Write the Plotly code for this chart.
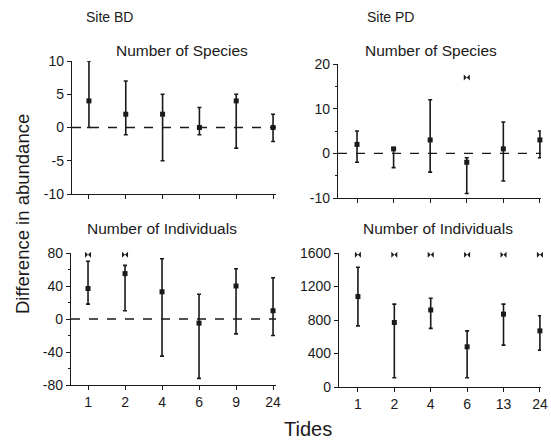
import plotly.graph_objects as go

W, H = 551, 447

# ---------------- data ----------------
bd_tides = ["1", "2", "4", "6", "9", "24"]
pd_tides = ["1", "2", "4", "6", "13", "24"]

bd_species_mean = [4, 2, 2, 0, 4, 0]
bd_species_upper = [10, 7, 5, 3, 5, 2]
bd_species_lower = [0, -1.1, -5, -1.1, -3.1, -2.1]
bd_species_sig = [11.2, None, None, None, None, None]

pd_species_mean = [2, 1, 3, -2, 1, 3]
pd_species_upper = [5, 1.2, 12, -1, 7, 5]
pd_species_lower = [-2, -3.2, -4.2, -9, -6.2, -1]
pd_species_sig = [None, None, None, 17, None, None]

bd_ind_mean = [37, 55, 33, -5, 40, 10]
bd_ind_upper = [70, 65, 73, 30, 61, 50]
bd_ind_lower = [18, 10, -45, -72, -18, -20]
bd_ind_sig = [78, 78, None, None, None, None]

pd_ind_mean = [1080, 770, 920, 480, 870, 670]
pd_ind_upper = [1430, 990, 1060, 670, 990, 850]
pd_ind_lower = [730, 110, 700, 110, 500, 440]
pd_ind_sig = [1580, 1580, 1580, 1580, 1580, 1580]

FONT = "Liberation Sans, Arial, Helvetica, sans-serif"
INK = "#1a1a1a"

panels = [
    dict(x=bd_tides, m=bd_species_mean, u=bd_species_upper, l=bd_species_lower, s=bd_species_sig,
         xa="x", ya="y", xpx=(72, 276), ypx=(61, 194), yr=[-10, 10], xr=[-0.46, 5.08],
         tv=[10, 5, 0, -5, -10], tt=["10", "5", "0", "-5", "-10"], minor=None, zero=True, xl=False),
    dict(x=pd_tides, m=pd_species_mean, u=pd_species_upper, l=pd_species_lower, s=pd_species_sig,
         xa="x2", ya="y2", xpx=(338, 541), ypx=(64, 198), yr=[-10, 20], xr=[-0.52, 5.03],
         tv=[20, 10, 0, -10], tt=["20", "10", "0", "-10"], minor=5, zero=True, xl=False),
    dict(x=bd_tides, m=bd_ind_mean, u=bd_ind_upper, l=bd_ind_lower, s=bd_ind_sig,
         xa="x3", ya="y3", xpx=(71, 276), ypx=(253, 385), yr=[-80, 80], xr=[-0.46, 5.08],
         tv=[80, 40, 0, -40, -80], tt=["80", "40", "0", "-40", "-80"], minor=20, zero=True, xl=True),
    dict(x=pd_tides, m=pd_ind_mean, u=pd_ind_upper, l=pd_ind_lower, s=pd_ind_sig,
         xa="x4", ya="y4", xpx=(339, 541), ypx=(253, 387), yr=[0, 1600], xr=[-0.52, 5.03],
         tv=[1600, 1200, 800, 400, 0], tt=["1600", "1200", "800", "400", "0"], minor=None, zero=False, xl=True),
]

fig = go.Figure()
layout = dict(
    width=W, height=H, margin=dict(l=0, r=0, t=0, b=0, pad=0, autoexpand=False),
    paper_bgcolor="white", plot_bgcolor="white", showlegend=False,
    font=dict(family=FONT, color=INK, size=13),
)
shapes = []

for i, p in enumerate(panels):
    plus = [u - m for u, m in zip(p["u"], p["m"])]
    minus = [m - l for m, l in zip(p["m"], p["l"])]
    fig.add_trace(go.Scatter(
        x=p["x"], y=p["m"], mode="markers", xaxis=p["xa"], yaxis=p["ya"],
        marker=dict(symbol="square", size=5, color=INK),
        error_y=dict(type="data", symmetric=False, array=plus, arrayminus=minus,
                     color=INK, thickness=1.6, width=2),
        cliponaxis=False,
    ))
    fig.add_trace(go.Scatter(
        x=p["x"], y=p["s"], mode="markers", xaxis=p["xa"], yaxis=p["ya"],
        marker=dict(symbol="bowtie", size=6, color=INK),
        cliponaxis=False,
    ))
    sfx = "" if i == 0 else str(i + 1)
    xdom = [p["xpx"][0] / W, p["xpx"][1] / W]
    ydom = [1 - p["ypx"][1] / H, 1 - p["ypx"][0] / H]
    layout["xaxis" + sfx] = dict(
        domain=xdom, anchor=p["ya"], type="category", range=p["xr"],
        categoryorder="array", categoryarray=p["x"], automargin=False,
        showline=True, linecolor=INK, linewidth=1.3, ticks="outside", ticklen=4,
        tickcolor=INK, showgrid=False, zeroline=False, showticklabels=p["xl"],
        tickfont=dict(size=14, family=FONT, color=INK), fixedrange=True,
    )
    ya = dict(
        domain=ydom, anchor=p["xa"], range=p["yr"], automargin=False,
        tickmode="array", tickvals=p["tv"], ticktext=p["tt"],
        showline=True, linecolor=INK, linewidth=1.3, ticks="outside", ticklen=4,
        tickcolor=INK, showgrid=False, zeroline=False,
        tickfont=dict(size=14, family=FONT, color=INK), fixedrange=True,
    )
    if p["minor"]:
        ya["minor"] = dict(dtick=p["minor"], ticklen=2, tickcolor=INK, ticks="outside", showgrid=False)
    layout["yaxis" + sfx] = ya
    if p["zero"]:
        shapes.append(dict(type="line", xref=p["xa"] + " domain", yref=p["ya"],
                           x0=0, x1=1, y0=0, y1=0,
                           line=dict(color=INK, width=1.3, dash="dash")))

layout["shapes"] = shapes

def ann(text, px, py, size, **kw):
    d = dict(text=text, x=px / W, y=1 - py / H, xref="paper", yref="paper",
             showarrow=False, font=dict(size=size, family=FONT, color=INK),
             xanchor="center", yanchor="middle")
    d.update(kw)
    return d

layout["annotations"] = [
    ann("Site BD", 110, 17, 14),
    ann("Site PD", 390, 17, 14),
    ann("Number of Species", 182, 51, 15.5),
    ann("Number of Species", 431, 51, 15.5),
    ann("Number of Individuals", 162, 229, 15.5),
    ann("Number of Individuals", 438, 229, 15.5),
    ann("Tides", 308, 429, 20),
    ann("Difference in abundance", 22, 214, 18.5, textangle=-90),
]

fig.update_layout(**layout)
fig.write_html(
    "out.html",
    config={"displayModeBar": False, "responsive": False},
    post_script="document.body.style.margin='0';document.body.style.padding='0';document.body.style.overflow='hidden';",
)
